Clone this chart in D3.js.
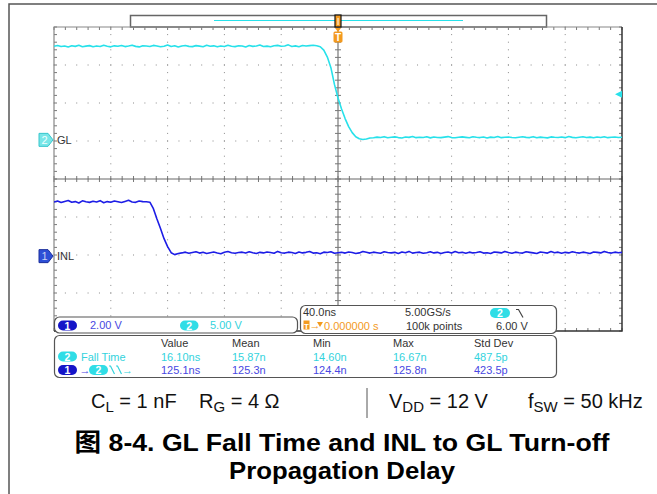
<!DOCTYPE html>
<meta charset="utf-8">
<script src="https://d3js.org/d3.v7.min.js"></script>
<style>body{margin:0;background:#fff}</style>
<svg id="scope" width="657" height="494"></svg>
<script>

// Scope settings
var timePerDiv = 40;          // ns / div
var sampleNs = 2.5;           // spacing of the samples below
var chVoltsPerDiv = [2, 5];   // ch1 = INL, ch2 = GL
var chOffsetDiv = [-2.03, 1.03];
var chLabels = ["INL", "GL"];
var scaleLabels = ["2.00 V", "5.00 V"];
var trigLevel = 6.0;
var timebase = ["40.0ns", "5.00GS/s", "100k points", "6.00 V", "0.000000 s"];

// Waveforms (volts), first sample at -200 ns
var glVolts = [
  12.31,12.42,12.28,12.35,12.22,12.38,12.30,12.45,12.26,12.33,
  12.40,12.25,12.36,12.29,12.44,12.31,12.24,12.37,12.32,12.41,
  12.27,12.35,12.46,12.30,12.23,12.39,12.34,12.28,12.43,12.36,
  12.25,12.32,12.48,12.29,12.38,12.21,12.35,12.42,12.30,12.27,
  12.40,12.33,12.26,12.44,12.31,12.37,12.24,12.36,12.29,12.45,
  12.32,12.27,12.39,12.34,12.22,12.41,12.30,12.36,12.47,12.28,
  12.33,12.25,12.38,12.43,12.31,12.35,12.50,12.29,12.37,12.26,
  12.42,12.34,12.40,12.45,12.38,
  12.25,11.8,10.9,9.5,7.3,5.5,4.05,2.8,1.75,0.95,0.4,0.15,0.05,0.12,0.25,
  0.28,0.36,0.31,0.42,0.27,0.34,0.39,0.30,0.25,0.37,
  0.33,0.44,0.29,0.35,0.31,0.40,0.26,0.38,0.32,0.29,
  0.36,0.43,0.30,0.27,0.35,0.39,0.33,0.28,0.41,0.34,
  0.30,0.37,0.25,0.36,0.32,0.45,0.29,0.34,0.38,0.31,
  0.27,0.35,0.40,0.33,0.30,0.42,0.28,0.36,0.32,0.26,
  0.39,0.34,0.31,0.37,0.29,0.44,0.33,0.28,0.35,0.40,
  0.30,0.36,0.27,0.38,0.32,0.41,0.29,0.34,0.37,0.31,
  0.35
];
var inlVolts = [
  2.85,2.90,2.82,2.88,2.93,2.84,2.87,2.80,2.91,2.86,
  2.83,2.89,2.85,2.92,2.81,2.87,2.84,2.90,2.86,2.82,
  2.88,2.94,2.85,2.83,2.90,2.87,2.86,
  2.84,2.5,1.95,1.45,0.92,0.5,0.18,0.08,0.14,
  0.17,0.21,0.15,0.19,0.23,0.16,0.20,0.14,0.18,0.22,
  0.17,0.13,0.20,0.24,0.18,0.15,0.19,0.21,0.16,0.23,
  0.18,0.14,0.20,0.17,0.22,0.19,0.15,0.25,0.18,0.16,
  0.21,0.19,0.14,0.22,0.17,0.20,0.24,0.16,0.18,0.13,
  0.21,0.19,0.23,0.15,0.18,0.20,0.16,0.22,0.19,0.14,
  0.17,0.24,0.20,0.16,0.21,0.18,0.15,0.23,0.19,0.17,
  0.20,0.14,0.22,0.18,0.25,0.16,0.19,0.21,0.15,0.18,
  0.23,0.17,0.20,0.14,0.19,0.22,0.16,0.24,0.18,0.20,
  0.15,0.21,0.17,0.19,0.23,0.16,0.18,0.14,0.22,0.20,
  0.17,0.25,0.19,0.15,0.21,0.18,0.16,0.23,0.20,0.17,
  0.14,0.22,0.19,0.16,0.24,0.18,0.21,0.15,0.20,0.17,
  0.23,0.19,0.16,0.21,0.18,0.14,0.22,0.20,0.17,0.25,
  0.19,0.16,0.21,0.18,0.20
];

// Measurements
var measHeaders = ["Value", "Mean", "Min", "Max", "Std Dev"];
var fallTimeRow = ["16.10ns", "15.87n", "14.60n", "16.67n", "487.5p"];
var delayRow = ["125.1ns", "125.3n", "124.4n", "125.8n", "423.5p"];

// Caption
var condSymbols = ["C", "R", "V", "f"];
var condSubs = ["L", "G", "DD", "SW"];
var condValues = [" = 1 nF", " = 4 \u03A9", " = 12 V", " = 50 kHz"];
var titleLines = ["\u56FE 8-4. GL Fall Time and INL to GL Turn-off", "Propagation Delay"];

var CYAN = "#27e1ea", BLUE = "#1d1de6", CYAN_T = "#33d3dd", BLUE_T = "#4848e2", ORANGE = "#f39a1e";
var font = "'Liberation Sans', Arial, sans-serif";

var svg = d3.select("#scope");

var x = d3.scaleLinear().domain([-5 * timePerDiv, 5 * timePerDiv]).range([54, 622]);
var yDiv = d3.scaleLinear().domain([4, -4]).range([27, 331]);
function yCh(ch) { return function(v) { return yDiv(chOffsetDiv[ch] + v / chVoltsPerDiv[ch]); }; }
var times = glVolts.map(function(v, i) { return x.domain()[0] + i * sampleNs; });

// outer frame
svg.append("path").attr("d", "M9,494V4H657").attr("fill", "none")
  .attr("stroke", "#555").attr("stroke-width", 1.5);

// record bar
svg.append("rect").attr("x", 130.5).attr("y", 15.5).attr("width", 416).attr("height", 11.5)
  .attr("fill", "#fff").attr("stroke", "#666").attr("stroke-width", 1.5);
svg.append("line").attr("x1", 214).attr("x2", 463).attr("y1", 20.5).attr("y2", 20.5)
  .attr("stroke", CYAN).attr("stroke-width", 1.2);

// graticule
var grid = svg.append("g");
var majT = d3.range(-200, 201, timePerDiv);
var minT = d3.range(-200, 201, timePerDiv / 5);
var majD = d3.range(-4, 5, 1);
var minD = d3.range(-4, 4.01, 0.2);

majT.filter(function(t) { return Math.abs(t) < 200 && t !== 0; }).forEach(function(t) {
  grid.selectAll(null).data(minD).enter().append("rect")
    .attr("x", x(t) - 0.5).attr("y", function(d) { return yDiv(d) - 0.5; })
    .attr("width", 1).attr("height", 1).attr("fill", "#8a8a8a");
});
majD.filter(function(d) { return Math.abs(d) < 4 && d !== 0; }).forEach(function(d) {
  grid.selectAll(null).data(minT).enter().append("rect")
    .attr("x", function(t) { return x(t) - 0.5; }).attr("y", yDiv(d) - 0.5)
    .attr("width", 1).attr("height", 1).attr("fill", "#8a8a8a");
});

// border ticks
function hTicks(yy, len) {
  grid.selectAll(null).data(minT).enter().append("line")
    .attr("x1", function(t) { return x(t); }).attr("x2", function(t) { return x(t); })
    .attr("y1", yy).attr("y2", yy + len).attr("stroke", "#777").attr("stroke-width", 1);
}
function vTicks(xx, len) {
  grid.selectAll(null).data(minD).enter().append("line")
    .attr("y1", function(d) { return yDiv(d); }).attr("y2", function(d) { return yDiv(d); })
    .attr("x1", xx).attr("x2", xx + len).attr("stroke", "#777").attr("stroke-width", 1);
}
hTicks(27, 3); hTicks(331, -3); vTicks(54, 3); vTicks(622, -3);
hTicks(yDiv(0) - 3, 6); vTicks(x(0) - 3, 6);

grid.append("line").attr("x1", 54).attr("x2", 622).attr("y1", yDiv(0)).attr("y2", yDiv(0))
  .attr("stroke", "#666").attr("stroke-width", 1);
grid.append("line").attr("x1", x(0)).attr("x2", x(0)).attr("y1", 27).attr("y2", 331)
  .attr("stroke", "#777").attr("stroke-width", 1.2);

grid.append("path").attr("d", "M54,331V27H622").attr("fill", "none").attr("stroke", "#888").attr("stroke-width", 1.2);
grid.append("path").attr("d", "M622,27V331H54").attr("fill", "none").attr("stroke", "#333").attr("stroke-width", 1.5);

// traces
svg.append("clipPath").attr("id", "plotclip").append("rect")
  .attr("x", 54).attr("y", 27).attr("width", 568).attr("height", 304);
var traces = svg.append("g").attr("clip-path", "url(#plotclip)");
[[inlVolts, 0, BLUE], [glVolts, 1, CYAN]].forEach(function(tr) {
  var yy = yCh(tr[1]);
  traces.append("path").datum(tr[0])
    .attr("d", d3.line().x(function(v, i) { return x(times[i]); }).y(function(v) { return yy(v); }))
    .attr("fill", "none").attr("stroke", tr[2]).attr("stroke-width", 1.6).attr("stroke-linejoin", "round");
});

// trigger markers
var tx = x(0);
svg.append("rect").attr("x", tx - 3).attr("y", 15).attr("width", 6).attr("height", 12)
  .attr("fill", ORANGE).attr("stroke", "#111").attr("stroke-width", 1.2);
svg.append("line").attr("x1", tx).attr("x2", tx).attr("y1", 18).attr("y2", 25).attr("stroke", "#fff").attr("stroke-width", 1);
svg.append("path").attr("d", "M" + (tx - 3) + ",28L" + (tx + 3) + ",28L" + tx + ",32Z").attr("fill", ORANGE);
svg.append("rect").attr("x", tx - 4.5).attr("y", 31.5).attr("width", 9).attr("height", 11).attr("rx", 1.5).attr("fill", ORANGE);
svg.append("text").attr("x", tx).attr("y", 41).attr("text-anchor", "middle")
  .attr("font-family", font).attr("font-weight", "bold").attr("font-size", 10).attr("fill", "#fff").text("T");

var ty = yCh(1)(trigLevel);
svg.append("path").attr("d", "M622," + (ty - 3.5) + "L615," + ty + "L622," + (ty + 3.5) + "Z").attr("fill", CYAN);

// channel ground markers
[[0, "#2d4fd6", "#1c2f9c", "#c8d0f4"], [1, "#79e6e8", "#38c6cc", "#f0ffff"]].forEach(function(m) {
  var gy = yCh(m[0])(0);
  svg.append("path")
    .attr("d", "M39," + (gy - 6.5) + "H48L53," + gy + "L48," + (gy + 6.5) + "H39Z")
    .attr("fill", m[1]).attr("stroke", m[2]).attr("stroke-width", 1);
  svg.append("text").attr("x", 44.5).attr("y", gy + 4).attr("text-anchor", "middle")
    .attr("font-family", font).attr("font-size", 11).attr("fill", m[3]).text(m[0] + 1);
  svg.append("text").attr("x", 57).attr("y", gy + 4).attr("font-family", font)
    .attr("font-size", 11).attr("fill", "#333").text(chLabels[m[0]]);
});

// readout panels
function panel(x0, y0, w, h) {
  svg.append("rect").attr("x", x0).attr("y", y0).attr("width", w).attr("height", h).attr("rx", 5)
    .attr("fill", "#fff").attr("stroke", "#555").attr("stroke-width", 1.2);
}
function txt(xx, yy, s, col) {
  return svg.append("text").attr("x", xx).attr("y", yy).attr("font-family", font)
    .attr("font-size", 11).attr("fill", col).text(s);
}
function pill(x0, y0, w, col, label) {
  svg.append("rect").attr("x", x0).attr("y", y0).attr("width", w).attr("height", 10).attr("rx", 5).attr("fill", col);
  svg.append("text").attr("x", x0 + w / 2).attr("y", y0 + 9).attr("text-anchor", "middle")
    .attr("font-family", font).attr("font-weight", "bold").attr("font-size", 10.5).attr("fill", "#fff").text(label);
}

panel(54.5, 317, 243, 16);
pill(58, 320.5, 19, "#1515c8", "1");
txt(90, 329, scaleLabels[0], BLUE_T);
pill(180, 320.5, 18.5, "#30dde6", "2");
txt(210, 329, scaleLabels[1], CYAN_T);

panel(300.5, 305.5, 256, 28);
txt(303, 316, timebase[0], "#333");
txt(405, 316, timebase[1], "#333");
pill(490, 308, 20, "#30dde6", "2");
svg.append("path").attr("d", "M516,309.5H518.5L523,317.5").attr("fill", "none").attr("stroke", "#444").attr("stroke-width", 1.2);
svg.append("rect").attr("x", 303.5).attr("y", 320.5).attr("width", 6).attr("height", 9).attr("fill", ORANGE);
svg.append("text").attr("x", 306.5).attr("y", 328.5).attr("text-anchor", "middle").attr("font-family", font)
  .attr("font-weight", "bold").attr("font-size", 8).attr("fill", "#fff").text("T");
txt(309.5, 329, "\u2192", ORANGE);
svg.append("path").attr("d", "M317,322H323L320,327Z").attr("fill", ORANGE);
txt(324, 329.5, timebase[4], ORANGE);
txt(406, 329.5, timebase[2], "#333");
txt(496, 329.5, timebase[3], "#333");

panel(54.5, 335.5, 502, 42);
var colX = [161, 232, 313, 393, 474];
measHeaders.forEach(function(h, i) { txt(colX[i], 347, h, "#333"); });
fallTimeRow.forEach(function(v, i) { txt(colX[i], 360.5, v, CYAN_T); });
delayRow.forEach(function(v, i) { txt(colX[i], 373.5, v, BLUE_T); });
pill(58, 351.5, 19, "#30dde6", "2");
txt(81, 360.5, "Fall Time", CYAN_T);
pill(58, 365, 19, "#1515c8", "1");
txt(79.5, 373.5, "\u2192", BLUE_T);
pill(89, 365, 19, "#30dde6", "2");
svg.append("path").attr("d", "M109,366H110.5L114.5,374M116,366H117.5L121.5,374").attr("fill", "none")
  .attr("stroke", CYAN_T).attr("stroke-width", 1.2);
txt(122, 373.5, "\u2192", CYAN_T);

// caption: test conditions
var condX = [91, 199, 389, 528];
condSymbols.forEach(function(s, i) {
  var t = svg.append("text").attr("x", condX[i]).attr("y", 408).attr("font-family", font)
    .attr("font-size", 20).attr("fill", "#111");
  t.append("tspan").text(s);
  t.append("tspan").attr("font-size", 15).attr("dy", 4).text(condSubs[i]);
  t.append("tspan").attr("dy", -4).text(condValues[i]);
});
svg.append("line").attr("x1", 367).attr("x2", 367).attr("y1", 388).attr("y2", 418)
  .attr("stroke", "#555").attr("stroke-width", 1);

// caption: title
var titleW = [535, 226];
titleLines.forEach(function(s, i) {
  svg.append("text").attr("x", 342).attr("y", 451 + i * 28).attr("text-anchor", "middle")
    .attr("font-family", "'Liberation Sans', 'Noto Sans CJK SC', Arial, sans-serif")
    .attr("font-weight", "bold").attr("font-size", 24.5).attr("fill", "#000")
    .attr("textLength", titleW[i]).attr("lengthAdjust", "spacingAndGlyphs").text(s);
});

</script>
